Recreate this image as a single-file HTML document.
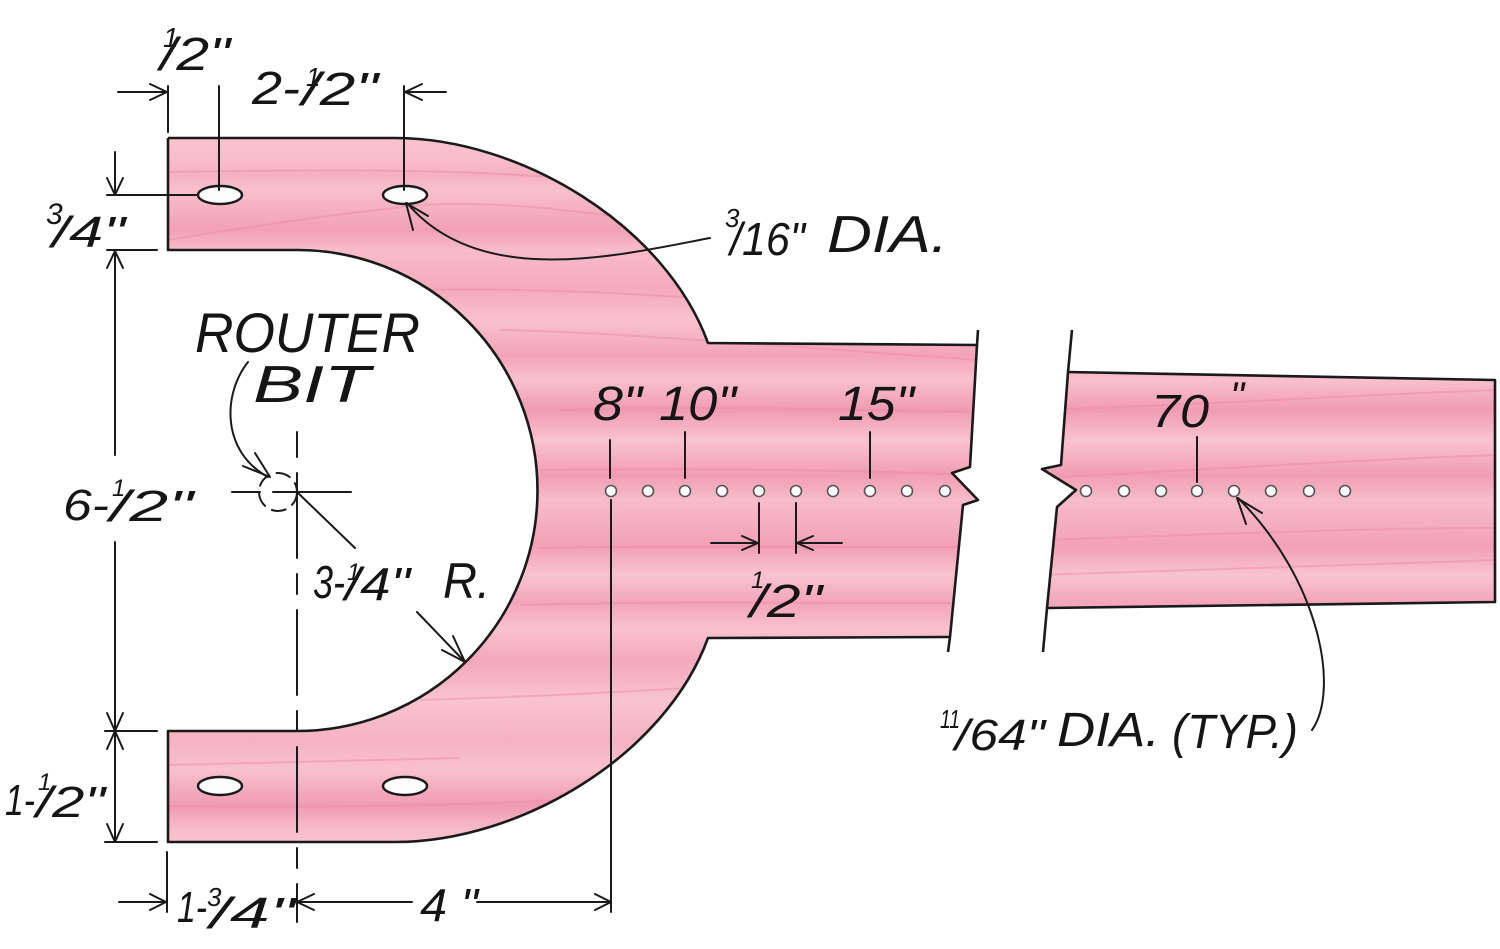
<!DOCTYPE html>
<html>
<head>
<meta charset="utf-8">
<style>
  html,body{margin:0;padding:0;background:#fff;}
  svg{display:block;}
  text{font-family:"Liberation Sans", sans-serif;font-style:italic;fill:#151515;}
</style>
</head>
<body>
<svg width="1500" height="949" viewBox="0 0 1500 949" xmlns="http://www.w3.org/2000/svg">
  <defs>
    <linearGradient id="wood" gradientUnits="userSpaceOnUse" x1="0" y1="130" x2="0" y2="850">
      <stop offset="0" stop-color="#fac6d2"/>
      <stop offset="0.042" stop-color="#f8bccb"/>
      <stop offset="0.063" stop-color="#f6b0c2"/>
      <stop offset="0.083" stop-color="#f9c0ce"/>
      <stop offset="0.139" stop-color="#f2a0b6"/>
      <stop offset="0.167" stop-color="#f8bccb"/>
      <stop offset="0.222" stop-color="#f5aabd"/>
      <stop offset="0.264" stop-color="#f9c2cf"/>
      <stop offset="0.313" stop-color="#f3a3b8"/>
      <stop offset="0.347" stop-color="#f9c0cd"/>
      <stop offset="0.389" stop-color="#f09bb2"/>
      <stop offset="0.431" stop-color="#f9c3d0"/>
      <stop offset="0.479" stop-color="#f19db3"/>
      <stop offset="0.514" stop-color="#f8bccb"/>
      <stop offset="0.579" stop-color="#f2a0b6"/>
      <stop offset="0.618" stop-color="#f9c3d0"/>
      <stop offset="0.657" stop-color="#f3a5b9"/>
      <stop offset="0.694" stop-color="#f9c2cf"/>
      <stop offset="0.736" stop-color="#f4a8bb"/>
      <stop offset="0.792" stop-color="#f9c3d0"/>
      <stop offset="0.847" stop-color="#f6b2c3"/>
      <stop offset="0.889" stop-color="#f9c0cd"/>
      <stop offset="0.938" stop-color="#f09bb2"/>
      <stop offset="0.972" stop-color="#f8bccb"/>
      <stop offset="1" stop-color="#fac6d2"/>
    </linearGradient>
    <clipPath id="clipL">
      <path d="M168,138 L395,138 C520,138 665,225 708,343 L977,345 L970,467 L952,473 L978,500 L963,505 L950,637 L708,638 C665,756 520,842 395,842 L168,842 L168,731 L297,731 A240.5,240.5 0 0 0 537.5,490.5 A240.5,240.5 0 0 0 297,250 L168,250 Z"/>
    </clipPath>
    <clipPath id="clipR">
      <path d="M1068,372 L1495,380 L1495,602 L1047,608 L1057,507 L1076,490 L1042,469 L1061,465 Z"/>
    </clipPath>
  </defs>

  <!-- wood pieces -->
  <path d="M168,138 L395,138 C520,138 665,225 708,343 L977,345 L970,467 L952,473 L978,500 L963,505 L950,637 L708,638 C665,756 520,842 395,842 L168,842 L168,731 L297,731 A240.5,240.5 0 0 0 537.5,490.5 A240.5,240.5 0 0 0 297,250 L168,250 Z" fill="url(#wood)"/>
  <path d="M1068,372 L1495,380 L1495,602 L1047,608 L1057,507 L1076,490 L1042,469 L1061,465 Z" fill="url(#wood)"/>

  <!-- grain streaks -->
  <g clip-path="url(#clipL)" fill="none" stroke="#ec8aa4" stroke-opacity="0.45" stroke-width="2">
    <path d="M168,240 C260,225 330,215 420,205 C520,200 600,215 720,230"/>
    <path d="M168,172 C300,170 450,168 560,178"/>
    <path d="M420,290 C520,288 600,292 700,298"/>
    <path d="M500,330 C600,332 700,340 980,360"/>
    <path d="M560,410 C700,405 850,410 980,412"/>
    <path d="M540,470 C700,468 850,470 980,475"/>
    <path d="M540,548 C700,545 850,548 980,547"/>
    <path d="M520,605 C700,600 850,604 980,603"/>
    <path d="M420,700 C560,696 650,690 720,686"/>
    <path d="M168,806 C300,808 450,806 560,800"/>
    <path d="M168,765 C300,762 380,760 460,758"/>
  </g>
  <g clip-path="url(#clipR)" fill="none" stroke="#ec8aa4" stroke-opacity="0.45" stroke-width="2">
    <path d="M1040,410 C1200,405 1350,395 1500,390"/>
    <path d="M1040,478 C1200,470 1350,460 1500,455"/>
    <path d="M1040,540 C1200,535 1350,528 1500,528"/>
    <path d="M1040,575 C1200,570 1350,565 1500,560"/>
  </g>

  <!-- outlines -->
  <g fill="none" stroke="#1a1a1a" stroke-width="2.6" stroke-linejoin="round">
    <path d="M168,138 L395,138 C520,138 665,225 708,343 L977,345"/>
    <path d="M978,330 L977,345 L970,467 L952,473 L978,500 L963,505 L950,637 L948,652"/>
    <path d="M950,637 L708,638 C665,756 520,842 395,842 L168,842 L168,731 L297,731"/>
    <path d="M297,731 A240.5,240.5 0 0 0 537.5,490.5 A240.5,240.5 0 0 0 297,250 L168,250 L168,138"/>
    <path d="M1072,330 L1068,372 L1061,465 L1042,469 L1076,490 L1057,507 L1047,608 L1043,652"/>
    <path d="M1068,372 L1495,380 L1495,602 L1047,608"/>
  </g>

  <!-- large holes -->
  <g fill="#fdfdfd" stroke="#1a1a1a" stroke-width="2.4">
    <ellipse cx="220" cy="195" rx="22" ry="9"/>
    <ellipse cx="405" cy="195" rx="22" ry="9"/>
    <ellipse cx="220" cy="786" rx="22" ry="9"/>
    <ellipse cx="405" cy="786" rx="22" ry="9"/>
  </g>

  <!-- small holes -->
  <g fill="#ffffff" stroke="#555" stroke-width="1.6">
    <circle cx="611" cy="491" r="5.5"/>
    <circle cx="648" cy="491" r="5.5"/>
    <circle cx="685" cy="491" r="5.5"/>
    <circle cx="722" cy="491" r="5.5"/>
    <circle cx="759" cy="491" r="5.5"/>
    <circle cx="796" cy="491" r="5.5"/>
    <circle cx="833" cy="491" r="5.5"/>
    <circle cx="870" cy="491" r="5.5"/>
    <circle cx="907" cy="491" r="5.5"/>
    <circle cx="945" cy="491" r="5.5"/>
    <circle cx="1086" cy="491" r="5.5"/>
    <circle cx="1124" cy="491" r="5.5"/>
    <circle cx="1161" cy="491" r="5.5"/>
    <circle cx="1197" cy="491" r="5.5"/>
    <circle cx="1234" cy="491" r="5.5"/>
    <circle cx="1271" cy="491" r="5.5"/>
    <circle cx="1309" cy="491" r="5.5"/>
    <circle cx="1345" cy="491" r="5.5"/>
  </g>

  <!-- dimension lines -->
  <g fill="none" stroke="#1a1a1a" stroke-width="2" stroke-linecap="round" stroke-linejoin="round">
    <!-- top 1/2 -->
    <path d="M118,92 H167 M150,84 L167,92 L150,100"/>
    <path d="M168,86 V132"/>
    <path d="M219,86 V190"/>
    <path d="M404,86 V190"/>
    <path d="M446,92 H405 M422,84 L405,92 L422,100"/>
    <!-- 3/4 -->
    <path d="M115,152 V195 M107,178 L115,195 L123,178"/>
    <path d="M107,195 H198"/>
    <path d="M107,250 H157"/>
    <!-- 6-1/2 -->
    <path d="M115,252 V455 M107,268 L115,251 L123,268"/>
    <path d="M115,542 V731 M107,713 L115,731 L123,713"/>
    <path d="M105,731 H157"/>
    <!-- 1-1/2 -->
    <path d="M115,731 V842 M107,749 L115,731 L123,749 M107,824 L115,842 L123,824"/>
    <path d="M105,842 H157"/>
    <!-- bottom -->
    <path d="M167,852 V912"/>
    <path d="M119,902 H166 M150,894 L166,902 L150,910"/>
    <path d="M297,902 H412 M314,894 L297,902 L314,910"/>
    <path d="M477,902 H611 M595,894 L611,902 L595,910"/>
    <path d="M611,500 V912"/>
    <!-- ticks -->
    <path d="M610,440 V478"/>
    <path d="M685,432 V478"/>
    <path d="M870,432 V478"/>
    <path d="M1197,437 V482"/>
    <!-- 1/2 spacing -->
    <path d="M759,503 V553 M796,503 V553"/>
    <path d="M711,543 H758 M742,536 L758,543 L742,550"/>
    <path d="M842,543 H797 M813,536 L797,543 L813,550"/>
    <!-- router bit crosshair -->
    <path d="M232,492 H260 M273,492 H351"/>
    <path d="M297,432 V457"/>
    <path d="M297,473 V922" stroke-dasharray="85 16 20 16"/>
    <circle cx="278" cy="492" r="19" stroke-dasharray="14 8"/>
    <!-- router bit leader -->
    <path d="M248,362 C222,395 222,452 268,477"/>
    <path d="M243,466 L270,477 L255,453"/>
    <!-- radius leaders -->
    <path d="M297,492 L355,548"/>
    <path d="M417,612 L465,662 M442,650 L465,662 L453,636"/>
    <!-- 3/16 leader -->
    <path d="M710,238 C620,255 480,290 407,203"/>
    <path d="M413,230 L406,203 L428,216"/>
    <!-- 11/64 leader -->
    <path d="M1312,730 C1340,690 1320,580 1238,498"/>
    <path d="M1246,524 L1237,498 L1262,513"/>
  </g>

  <!-- labels -->
  <!-- top 1/2" -->
  <text x="163" y="47" font-size="28">1</text>
  <text x="160" y="70" font-size="46" textLength="70" lengthAdjust="spacingAndGlyphs">/2"</text>
  <!-- 2-1/2" -->
  <text x="252" y="104" font-size="46" textLength="48" lengthAdjust="spacingAndGlyphs">2-</text>
  <text x="306" y="86" font-size="26">1</text>
  <text x="302" y="105" font-size="46" textLength="76" lengthAdjust="spacingAndGlyphs">/2"</text>
  <!-- 3/4" -->
  <text x="46" y="224" font-size="30">3</text>
  <text x="52" y="247" font-size="44" textLength="73" lengthAdjust="spacingAndGlyphs">/4"</text>
  <!-- 6-1/2" -->
  <text x="63" y="520" font-size="44" textLength="46" lengthAdjust="spacingAndGlyphs">6-</text>
  <text x="112" y="496" font-size="24">1</text>
  <text x="110" y="521" font-size="44" textLength="83" lengthAdjust="spacingAndGlyphs">/2"</text>
  <!-- 1-1/2" -->
  <text x="5" y="815" font-size="44" textLength="30" lengthAdjust="spacingAndGlyphs">1-</text>
  <text x="38" y="790" font-size="24">1</text>
  <text x="36" y="817" font-size="44" textLength="69" lengthAdjust="spacingAndGlyphs">/2"</text>
  <!-- 1-3/4" -->
  <text x="177" y="922" font-size="44" textLength="30" lengthAdjust="spacingAndGlyphs">1-</text>
  <text x="207" y="906" font-size="26">3</text>
  <text x="210" y="928" font-size="44" textLength="85" lengthAdjust="spacingAndGlyphs">/4"</text>
  <!-- 4" -->
  <text x="420" y="921" font-size="46" textLength="58" lengthAdjust="spacingAndGlyphs">4 "</text>
  <!-- ROUTER BIT -->
  <text x="195" y="352" font-size="56" textLength="225" lengthAdjust="spacingAndGlyphs">ROUTER</text>
  <text x="253" y="402" font-size="52" textLength="117" lengthAdjust="spacingAndGlyphs">BIT</text>
  <!-- 3-1/4" R. -->
  <text x="313" y="598" font-size="46" textLength="32" lengthAdjust="spacingAndGlyphs">3-</text>
  <text x="347" y="580" font-size="24">1</text>
  <text x="345" y="600" font-size="46" textLength="65" lengthAdjust="spacingAndGlyphs">/4"</text>
  <text x="443" y="598" font-size="50" textLength="47" lengthAdjust="spacingAndGlyphs">R.</text>
  <!-- 3/16" DIA. -->
  <text x="725" y="227" font-size="26">3</text>
  <text x="730" y="255" font-size="46" textLength="75" lengthAdjust="spacingAndGlyphs">/16"</text>
  <text x="827" y="252" font-size="52" textLength="121" lengthAdjust="spacingAndGlyphs">DIA.</text>
  <!-- position marks -->
  <text x="593" y="420" font-size="48" textLength="49" lengthAdjust="spacingAndGlyphs">8"</text>
  <text x="659" y="420" font-size="48" textLength="77" lengthAdjust="spacingAndGlyphs">10"</text>
  <text x="838" y="420" font-size="48" textLength="76" lengthAdjust="spacingAndGlyphs">15"</text>
  <text x="1151" y="427" font-size="46" textLength="58" lengthAdjust="spacingAndGlyphs">70</text>
  <text x="1230" y="410" font-size="40">"</text>
  <!-- 1/2" spacing -->
  <text x="751" y="588" font-size="24">1</text>
  <text x="750" y="617" font-size="46" textLength="72" lengthAdjust="spacingAndGlyphs">/2"</text>
  <!-- 11/64" DIA. (TYP.) -->
  <text x="940" y="728" font-size="26" textLength="20" lengthAdjust="spacingAndGlyphs">11</text>
  <text x="955" y="750" font-size="44" textLength="90" lengthAdjust="spacingAndGlyphs">/64"</text>
  <text x="1057" y="746" font-size="48" textLength="103" lengthAdjust="spacingAndGlyphs">DIA.</text>
  <text x="1172" y="748" font-size="48" textLength="126" lengthAdjust="spacingAndGlyphs">(TYP.)</text>
</svg>
</body>
</html>
